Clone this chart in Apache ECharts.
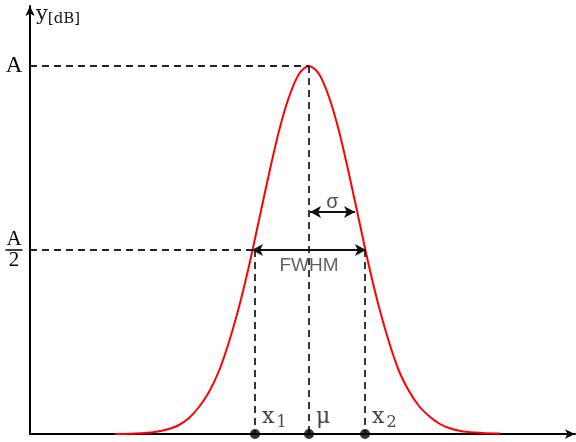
<!DOCTYPE html>
<html>
<head>
<meta charset="utf-8">
<script src="https://cdn.jsdelivr.net/npm/echarts@6/dist/echarts.min.js"></script>
<style>
html,body{margin:0;padding:0;background:#fff;}
#c{width:576px;height:442px;}
</style>
</head>
<body>
<div id="c"></div>
<script>
// Curve points (x: horizontal units, y: level units)
const curveX = [85, 105, 125, 139, 149, 159, 169, 179, 189, 199, 209, 219, 229, 239, 249, 259, 269, 279, 289, 299, 309, 319, 329, 339, 349, 359, 369, 379, 389, 399, 409, 419, 433, 453, 470];
const curveY = [0, 0.5, 2, 5, 9, 16, 27, 42, 63, 92, 127, 168, 214, 260, 303, 337, 360, 368, 360, 337, 303, 260, 214, 168, 127, 92, 63, 43, 28, 18, 10.5, 6, 2.5, 1, 0.5];

// Key levels and positions
const peakA = 368;
const halfA = 184;
const mu = 279;
const x1 = 225;
const x2 = 335;
const fwhmEnds = [222, 336];
const sigmaEnds = [280, 325];
const sigmaLevel = 222;

// Text
const yTickNames = { A: 'A', half: ['A', '2'] };
const pointNames = ['x', 'μ', 'x'];
const pointSubs = ['1', '', '2'];
const yName = ['y', '[dB]'];
const fwhmText = 'FWHM';
const sigmaText = 'σ';

const xMax = 545, yMax = 428;
const serif = '"Liberation Serif","DejaVu Serif",serif';
const dserif = '"DejaVu Serif","Liberation Serif",serif';
const sans = '"Liberation Sans","DejaVu Sans",sans-serif';
const textCol = '#10142a';

const dash = { color: '#222', width: 1.8, type: [7, 5] };
const arrowStyle = { color: '#111', width: 1.8, type: 'solid' };

const chart = echarts.init(document.getElementById('c'), null, { renderer: 'canvas' });

const pts = [x1, mu, x2].map((x, i) => ({ value: [x, 0], name: pointNames[i], sub: pointSubs[i] }));

chart.setOption({
  animation: false,
  grid: { left: 30, right: 1, top: 6, bottom: 8, containLabel: false },
  xAxis: {
    type: 'value', min: 0, max: xMax,
    axisLine: { show: true, onZero: false, lineStyle: { color: '#000', width: 2 }, symbol: ['none', 'arrow'], symbolSize: [7, 10] },
    axisTick: { show: false }, axisLabel: { show: false }, splitLine: { show: false }
  },
  yAxis: {
    type: 'value', min: 0, max: yMax, interval: halfA,
    name: '{y|' + yName[0] + '}{s|' + yName[1] + '}',
    nameLocation: 'end', nameGap: 4,
    nameTextStyle: {
      align: 'left', verticalAlign: 'top', padding: [0, 0, 0, 6],
      rich: {
        y: { fontFamily: dserif, fontSize: 21, color: textCol },
        s: { fontFamily: dserif, fontSize: 15, color: textCol, padding: [10, 0, 0, 0] }
      }
    },
    axisLine: { show: true, onZero: false, lineStyle: { color: '#000', width: 2 }, symbol: ['none', 'arrow'], symbolSize: [7, 10] },
    axisTick: { show: false }, splitLine: { show: false },
    axisLabel: {
      show: true, showMaxLabel: false, showMinLabel: false, align: 'center', margin: 16,
      formatter: function (v) {
        if (v === peakA) return '{a|' + yTickNames.A + '}';
        if (v === halfA) return '{n|' + yTickNames.half[0] + '}\n{bar|}\n{n|' + yTickNames.half[1] + '}';
        return '';
      },
      rich: {
        a: { fontFamily: serif, fontSize: 23, color: '#000', align: 'center' },
        n: { fontFamily: serif, fontSize: 21, color: '#000', lineHeight: 20, align: 'center' },
        bar: { width: 17, height: 1.5, backgroundColor: '#000', align: 'center' }
      }
    }
  },
  series: [
    {
      type: 'line', silent: true, symbol: 'none', data: [], z: 1,
      markLine: {
        silent: true, symbol: ['none', 'none'], animation: false,
        lineStyle: dash, label: { show: false },
        data: [
          [{ coord: [0, peakA] }, { coord: [mu, peakA] }],
          [{ coord: [0, halfA] }, { coord: [fwhmEnds[0], halfA] }],
          [{ coord: [mu, peakA] }, { coord: [mu, 0] }],
          [{ coord: [x1, halfA] }, { coord: [x1, 0] }],
          [{ coord: [x2, halfA] }, { coord: [x2, 0] }]
        ]
      }
    },
    {
      type: 'line', silent: true, symbol: 'none', data: [], z: 3,
      markLine: {
        silent: true, symbol: ['arrow', 'arrow'], symbolSize: [9, 11], animation: false,
        lineStyle: arrowStyle, label: { show: false },
        data: [
          [{ coord: [fwhmEnds[0], halfA] }, { coord: [fwhmEnds[1], halfA] }],
          [{ coord: [sigmaEnds[0], sigmaLevel] }, { coord: [sigmaEnds[1], sigmaLevel] }]
        ]
      }
    },
    {
      type: 'line', smooth: 0.3, symbol: 'none', z: 4,
      lineStyle: { color: '#ff0000', width: 2 },
      data: curveX.map((x, i) => [x, curveY[i]])
    },
    {
      type: 'scatter', symbol: 'circle', symbolSize: 10, z: 5,
      itemStyle: { color: '#000' },
      data: pts,
      label: {
        show: true, position: 'right', distance: 2, offset: [0, -17],
        formatter: function (p) { return '{m|' + p.data.name + '}{b|' + p.data.sub + '}'; },
        rich: {
          m: { fontFamily: dserif, fontSize: 22, color: textCol },
          b: { fontFamily: dserif, fontSize: 16, color: textCol, padding: [12, 0, 0, 2] }
        }
      }
    },
    {
      type: 'scatter', symbolSize: 0, z: 6,
      data: [
        { value: [(sigmaEnds[0] + sigmaEnds[1]) / 2, sigmaLevel], lab: sigmaText, kind: 's', label: { position: 'top', distance: 0 } },
        { value: [mu, halfA], lab: fwhmText, kind: 'f', label: { position: 'bottom', distance: 6 } }
      ],
      label: {
        show: true,
        formatter: function (p) { return p.data.kind === 's' ? '{s|' + p.data.lab + '}' : '{f|' + p.data.lab + '}'; },
        rich: {
          s: { fontFamily: sans, fontSize: 20, color: '#222' },
          f: { fontFamily: sans, fontSize: 19, color: '#3a3a3a' }
        }
      }
    }
  ]
});
</script>
</body>
</html>
